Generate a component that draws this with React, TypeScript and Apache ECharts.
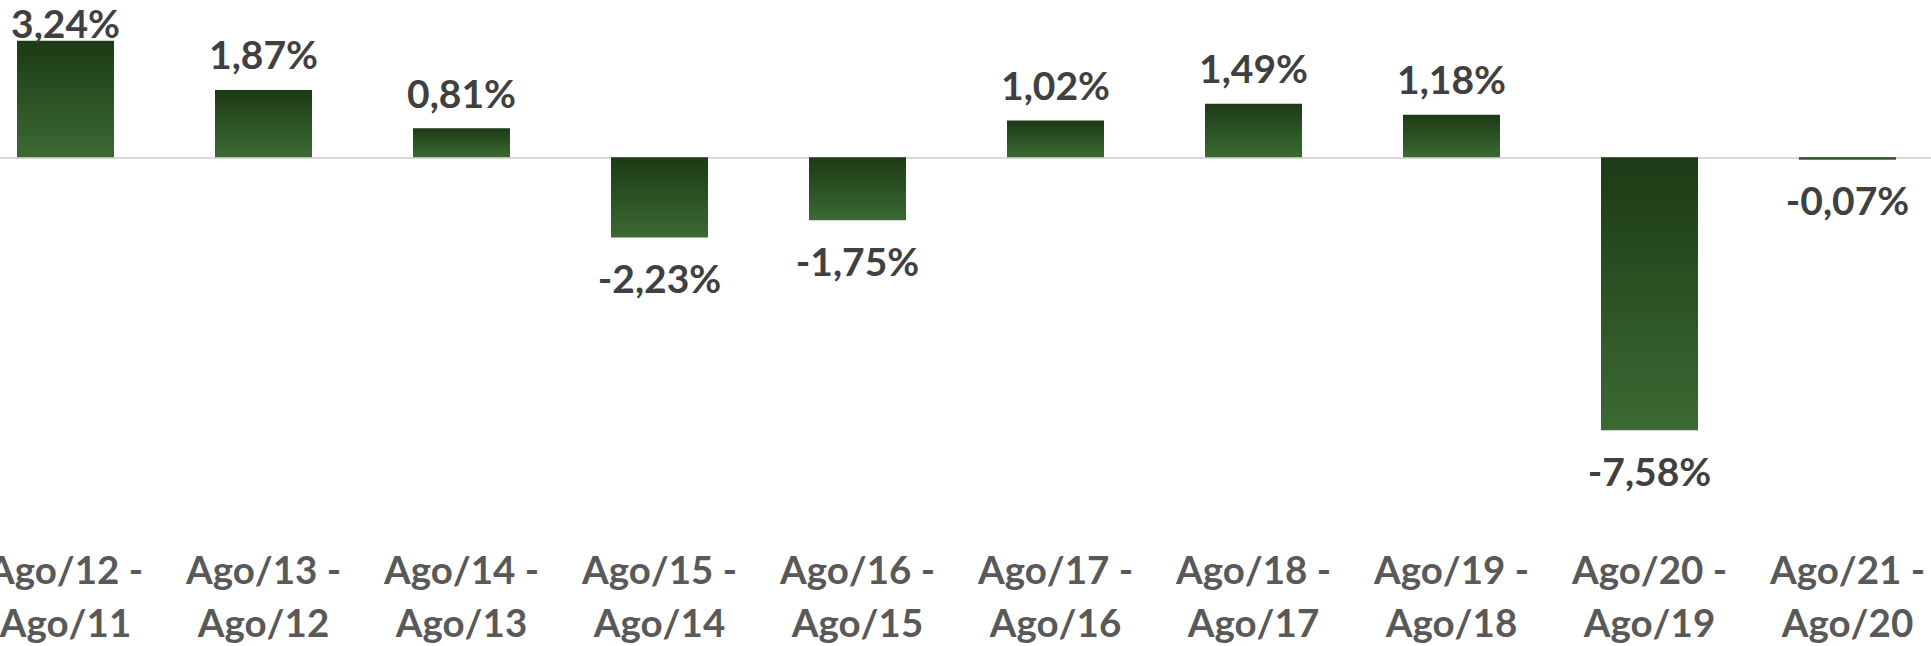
import React, { useEffect, useRef } from "react";
import * as echarts from "echarts";

const categories = [
  "Ago/12 -\nAgo/11",
  "Ago/13 -\nAgo/12",
  "Ago/14 -\nAgo/13",
  "Ago/15 -\nAgo/14",
  "Ago/16 -\nAgo/15",
  "Ago/17 -\nAgo/16",
  "Ago/18 -\nAgo/17",
  "Ago/19 -\nAgo/18",
  "Ago/20 -\nAgo/19",
  "Ago/21 -\nAgo/20",
];
const values = [3.24, 1.87, 0.81, -2.23, -1.75, 1.02, 1.49, 1.18, -7.58, -0.07];

const FONT = "Lato";

export default function App() {
  const ref = useRef<HTMLDivElement>(null);
  useEffect(() => {
    document.body.style.margin = "0";
    if (!ref.current) return;
    const chart = echarts.init(ref.current, null, { renderer: "svg" });
    const gradient = new echarts.graphic.LinearGradient(0, 0, 0, 1, [
      { offset: 0, color: "#1c3a16" },
      { offset: 1, color: "#3b6a32" },
    ]);
    const data = values.map((v, i) => ({
      value: v,
      label: {
        position: v >= 0 ? "top" : "bottom",
        distance: i === 0 ? -2 : v >= 0 ? 16 : 21,
      },
    }));
    chart.setOption({
      animation: false,
      backgroundColor: "#ffffff",
      grid: {
        left: -33.5,
        width: 1980,
        top: 13.3,
        height: 432,
        containLabel: false,
        outerBoundsMode: "none",
      },
      xAxis: {
        type: "category",
        data: categories,
        position: "bottom",
        axisLine: { show: false },
        axisTick: { show: false },
        axisLabel: {
          margin: 97,
          fontFamily: FONT,
          fontWeight: "bold",
          fontSize: 38.5,
          lineHeight: 53,
          color: "#595959",
          interval: 0,
          hideOverlap: false,
        },
        splitLine: { show: false },
      },
      yAxis: {
        type: "value",
        min: -8,
        max: 4,
        show: false,
        splitLine: { show: false },
      },
      series: [
        {
          type: "line",
          data: [],
          z: 1,
          silent: true,
          markLine: {
            silent: true,
            symbol: "none",
            z: 1,
            label: { show: false },
            lineStyle: { color: "#d9d9d9", width: 2, type: "solid" },
            data: [{ yAxis: 0 }],
          },
        },
        {
          type: "bar",
          data,
          z: 3,
          barWidth: 97,
          itemStyle: { color: gradient },
          label: {
            show: true,
            fontFamily: FONT,
            fontWeight: "bold",
            fontSize: 39,
            color: "#404040",
            formatter: (p: any) => p.value.toFixed(2).replace(".", ",") + "%",
          },
        },
      ],
    });
    return () => chart.dispose();
  }, []);
  return <div ref={ref} style={{ width: 1931, height: 646 }} />;
}
